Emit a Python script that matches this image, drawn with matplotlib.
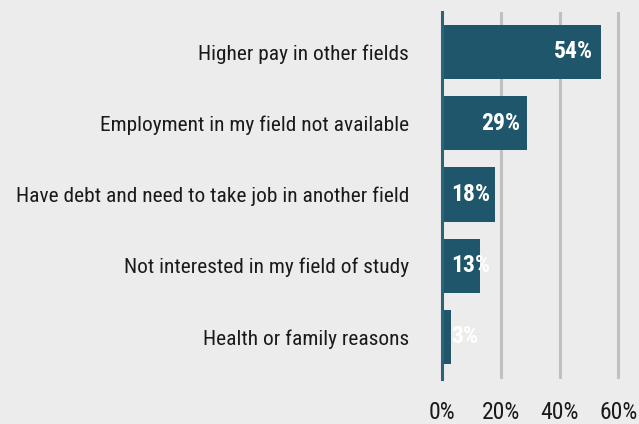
import matplotlib
matplotlib.use('Agg')
import matplotlib.pyplot as plt
import matplotlib.font_manager as fm
from matplotlib.ticker import FuncFormatter

# Data
reasons = ['Higher pay in other fields',
           'Employment in my field not available',
           'Have debt and need to take job in another field',
           'Not interested in my field of study',
           'Health or family reasons']
shares = [54, 29, 18, 13, 3]
ticks = [0, 20, 40, 60]

bar_color = '#20566b'
bg_color = '#ececec'

# the original uses a condensed sans; take the first condensed face we have
preferred = ['Liberation Sans Narrow', 'Roboto Condensed', 'Open Sans Condensed',
             'Noto Sans', 'Open Sans', 'DejaVu Sans', 'Roboto', 'Lato', 'Inter']
narrow = {f.name for f in fm.fontManager.ttflist
          if str(f.stretch) in ('condensed', 'semi-condensed', 'extra-condensed')}
font, stretch = 'DejaVu Sans', 'normal'
for name in preferred:
    if name in narrow:
        font, stretch = name, 'condensed'
        break
plt.rcParams['font.family'] = [font, 'DejaVu Sans']
plt.rcParams['font.stretch'] = stretch


def addPercentSign(x_tick, pos=0):
    return '%d%%' % x_tick


fig = plt.figure(figsize=(6.39, 4.24), dpi=100, facecolor=bg_color)
ax = fig.add_axes([442 / 639, 1 - 379 / 424, 1 - 442 / 639, (379 - 12) / 424])
ax.set_facecolor(bg_color)

ypos = list(range(len(reasons)))
ax.barh(ypos, shares, height=0.76, color=bar_color, zorder=3)

# value labels: right end of bar if it fits, else from the axis
value_labels = []
for y, v in zip(ypos, shares):
    if v >= 20:
        t = ax.text(v - 2.5, y, '%d%%' % v, ha='right', va='center',
                    color='white', fontsize=17, fontweight='bold', zorder=4)
    else:
        t = ax.text(3.2, y, '%d%%' % v, ha='left', va='center',
                    color='white', fontsize=17, fontweight='bold', zorder=4)
    value_labels.append(t)

ax.set_xlim(0, 67)
ax.set_ylim(4.59, -0.56)
ax.set_xticks(ticks)
ax.xaxis.set_major_formatter(FuncFormatter(addPercentSign))
ax.set_yticks(ypos)
ax.set_yticklabels(reasons)

for t in ticks[1:]:
    ax.axvline(t, color='#c0c0c0', lw=2.2, zorder=1)

for side in ['top', 'right', 'bottom']:
    ax.spines[side].set_visible(False)
ax.spines['left'].set_color('#2b6478')
ax.spines['left'].set_linewidth(2.2)
ax.spines['left'].set_zorder(5)

ax.tick_params(axis='y', length=0, pad=23.8, labelsize=17, labelcolor='#1a1a1a')
ax.tick_params(axis='x', length=0, pad=15.5, labelsize=17, labelcolor='#1a1a1a')

# shrink the text so the longest label is as wide as in the original (392 px)
fig.canvas.draw()
r = fig.canvas.get_renderer()
widest = max(l.get_window_extent(r).width for l in ax.get_yticklabels())
scale = min(1.0, 392.0 / widest)
ax.tick_params(axis='y', labelsize=17 * scale)
ax.tick_params(axis='x', labelsize=min(17, 17 * scale * 1.22))
for t in value_labels:
    t.set_fontsize(min(17, 17 * scale * 1.22))

fig.savefig('out.png', dpi=100, facecolor=bg_color)
